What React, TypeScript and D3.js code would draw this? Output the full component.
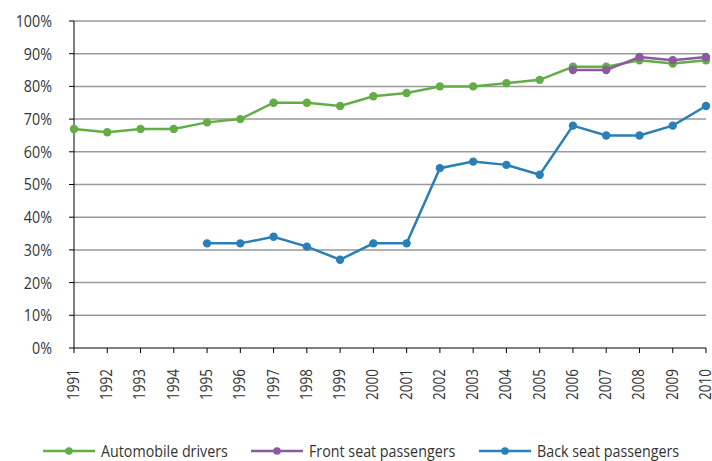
import React from "react";
import * as d3 from "d3";

const years = [
  1991, 1992, 1993, 1994, 1995, 1996, 1997, 1998, 1999, 2000, 2001, 2002,
  2003, 2004, 2005, 2006, 2007, 2008, 2009, 2010,
];
const drivers = [67, 66, 67, 67, 69, 70, 75, 75, 74, 77, 78, 80, 80, 81, 82, 86, 86, 88, 87, 88];
const frontYears = [2006, 2007, 2008, 2009, 2010];
const front = [85, 85, 89, 88, 89];
const backYears = [1995, 1996, 1997, 1998, 1999, 2000, 2001, 2002, 2003, 2004, 2005, 2006, 2007, 2008, 2009, 2010];
const back = [32, 32, 34, 31, 27, 32, 32, 55, 57, 56, 53, 68, 65, 65, 68, 74];
const yTicks = [0, 10, 20, 30, 40, 50, 60, 70, 80, 90, 100];

const W = 712;
const H = 461;
const margin = { top: 21, right: 6, bottom: 113, left: 74 };
const font = "'Open Sans', 'Noto Sans', sans-serif";
// the reference uses a narrow face, so squeeze the text horizontally
const squeeze = 0.84;

const series = [
  { name: "Automobile drivers", color: "#62ad45", xs: years, ys: drivers, lx: 43 },
  { name: "Front seat passengers", color: "#8b5a9c", xs: frontYears, ys: front, lx: 251 },
  { name: "Back seat passengers", color: "#2a7fb6", xs: backYears, ys: back, lx: 479 },
];

export default function App() {
  const x = d3
    .scaleLinear()
    .domain([1991, 2010])
    .range([margin.left, W - margin.right]);
  const y = d3
    .scaleLinear()
    .domain([0, 100])
    .range([H - margin.bottom, margin.top]);
  const line = d3
    .line<[number, number]>()
    .x((d) => x(d[0]))
    .y((d) => y(d[1]));

  return (
    <svg
      width={W}
      height={H}
      style={{ position: "absolute", left: 0, top: 0, background: "white" }}
      fontFamily={font}
    >
      {/* grid + y ticks */}
      {yTicks.map((t) => (
        <g key={t}>
          {t > 0 && (
            <line x1={margin.left} x2={W - margin.right} y1={y(t)} y2={y(t)} stroke="#999" strokeWidth={1.5} />
          )}
          <line x1={margin.left - 5} x2={margin.left} y1={y(t)} y2={y(t)} stroke="#000" strokeWidth={1} />
          <text
            transform={`translate(52,${y(t)}) scale(${squeeze},1)`}
            dy="0.35em"
            textAnchor="end"
            fontSize={17}
            fill="#333"
          >
            {t}%
          </text>
        </g>
      ))}
      {/* axes */}
      <line x1={margin.left} x2={margin.left} y1={y(100)} y2={y(0)} stroke="#000" strokeWidth={1} />
      <line x1={margin.left} x2={W - margin.right} y1={y(0)} y2={y(0)} stroke="#000" strokeWidth={1} />
      {years.map((yr) => (
        <g key={yr}>
          <line x1={x(yr)} x2={x(yr)} y1={y(0)} y2={y(0) + 5} stroke="#000" strokeWidth={1} />
          <text
            transform={`translate(${x(yr)},369) rotate(-90) scale(${squeeze - 0.02},1)`}
            dy="0.3em"
            textAnchor="end"
            fontSize={16.5}
            fill="#333"
          >
            {yr}
          </text>
        </g>
      ))}
      {/* series */}
      {series.map((s) => {
        const pts = s.xs.map((xv, i) => [xv, s.ys[i]] as [number, number]);
        return (
          <g key={s.name}>
            <path d={line(pts) ?? ""} fill="none" stroke={s.color} strokeWidth={2.5} />
            {pts.map((p, i) => (
              <circle key={i} cx={x(p[0])} cy={y(p[1])} r={4.2} fill={s.color} />
            ))}
          </g>
        );
      })}
      {/* legend */}
      {series.map((s) => (
        <g key={s.name} transform={`translate(${s.lx},451)`}>
          <line x1={0} x2={52} y1={0} y2={0} stroke={s.color} strokeWidth={2.5} />
          <circle cx={26} cy={0} r={3.8} fill={s.color} />
          <text
            transform={`translate(58,0) scale(${squeeze},1)`}
            dy="0.35em"
            fontSize={17}
            fill="#333"
          >
            {s.name}
          </text>
        </g>
      ))}
    </svg>
  );
}
